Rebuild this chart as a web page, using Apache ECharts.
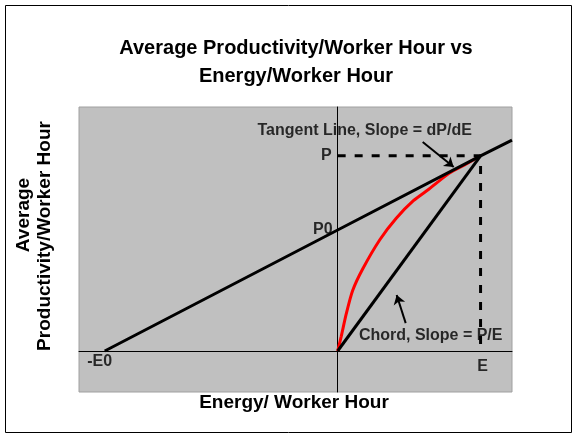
<!DOCTYPE html>
<html lang="en">
<head>
    <meta charset="UTF-8">
    <title>Average Productivity/Worker Hour vs Energy/Worker Hour</title>
    <script src="https://cdn.jsdelivr.net/npm/echarts@6/dist/echarts.min.js"></script>
    <style>
        html, body { margin: 0; padding: 0; background: #fff; }
        #main { width: 578px; height: 438px; }
    </style>
</head>
<body>
    <div id="main"></div>
    <script>
        // key points of the sketch (arbitrary units, E and P set to 10)
        var E = 10, P = 10, P0 = 6.2, E0 = 16.3;
        // red productivity curve
        var curveE = [0, 0.25, 0.6, 1.05, 1.75, 2.95, 4.1, 5.3, 6.4, 7.8, 9, 10];
        var curveP = [0, 0.75, 1.9, 3.1, 4.2, 5.7, 6.8, 7.7, 8.3, 9.1, 9.58, 10];
        // tangent line: -E0 -> P0 -> (E,P) -> off the right edge
        var tangentE = [-E0, 0, E, 12.2];
        var tangentP = [0, P0, P, 10.8];
        // chord from the origin to (E,P)
        var chordE = [0, E];
        var chordP = [0, P];
        // arrows [fromE, fromP, toE, toP]
        var tangentArrow = [5.95, 10.71, 8.12, 9.43];
        var chordArrow = [4.76, 1.43, 4.13, 2.87];

        var font = "'Liberation Sans', Arial, sans-serif";

        function zip(xs, ys) {
            var out = [];
            for (var i = 0; i < xs.length; i++) out.push([xs[i], ys[i]]);
            return out;
        }
        function lbl(x, y, text, pos, dist, off) {
            return {
                value: [x, y],
                label: { show: true, formatter: text, position: pos, distance: dist || 0, offset: off || [0, 0] }
            };
        }

        var myChart = echarts.init(document.getElementById('main'), null, { renderer: 'canvas' });
        var option = {
            animation: false,
            backgroundColor: '#fff',
            title: {
                text: 'Average Productivity/Worker Hour vs\nEnergy/Worker Hour',
                left: 291,
                top: 29,
                textAlign: 'center',
                textStyle: { fontFamily: font, fontWeight: 'bold', fontSize: 20, lineHeight: 28, color: '#000' }
            },
            grid: {
                left: 79, right: 66, top: 107, bottom: 46,
                show: true,
                backgroundColor: '#c0c0c0',
                borderColor: '#a0a0a0',
                borderWidth: 1
            },
            xAxis: {
                type: 'value', min: -18.1, max: 12.2,
                axisLine: { onZero: true, lineStyle: { color: '#000', width: 1 } },
                axisTick: { show: false }, axisLabel: { show: false }, splitLine: { show: false }
            },
            yAxis: {
                type: 'value', min: -2.1, max: 12.5,
                axisLine: { show: true, onZero: true, lineStyle: { color: '#000', width: 1 } },
                axisTick: { show: false }, axisLabel: { show: false }, splitLine: { show: false }
            },
            graphic: [
                { type: 'rect', shape: { x: 5.5, y: 5.5, width: 566, height: 427 }, style: { fill: 'none', stroke: '#000', lineWidth: 1 } },
                { type: 'text', x: 24, y: 215, rotation: Math.PI / 2,
                  style: { text: 'Average', align: 'center', verticalAlign: 'middle', font: 'bold 19px ' + font, fill: '#000' } },
                { type: 'text', x: 45, y: 236, rotation: Math.PI / 2,
                  style: { text: 'Productivity/Worker Hour', align: 'center', verticalAlign: 'middle', font: 'bold 19px ' + font, fill: '#000' } },
                { type: 'text', x: 294, y: 403,
                  style: { text: 'Energy/ Worker Hour', align: 'center', verticalAlign: 'middle', font: 'bold 19px ' + font, fill: '#000' } }
            ],
            series: [
                {
                    name: 'curve', type: 'line', data: zip(curveE, curveP),
                    smooth: 0.25, showSymbol: false, silent: true,
                    lineStyle: { color: '#ff0000', width: 3 }
                },
                {
                    name: 'tangent', type: 'line', data: zip(tangentE, tangentP),
                    showSymbol: false, silent: true,
                    lineStyle: { color: '#000', width: 3 }
                },
                {
                    name: 'chord', type: 'line', data: zip(chordE, chordP),
                    showSymbol: false, silent: true,
                    lineStyle: { color: '#000', width: 3 }
                },
                {
                    name: 'guides', type: 'line', data: [[0, P], [E, P], [E, 0]],
                    showSymbol: false, silent: true,
                    lineStyle: { color: '#000', width: 3, type: [8, 9] }
                },
                {
                    name: 'arrows', type: 'lines', coordinateSystem: 'cartesian2d', silent: true,
                    symbol: ['none', 'arrow'], symbolSize: 9,
                    lineStyle: { color: '#000', width: 2, opacity: 1 },
                    data: [
                        { coords: [[tangentArrow[0], tangentArrow[1]], [tangentArrow[2], tangentArrow[3]]] },
                        { coords: [[chordArrow[0], chordArrow[1]], [chordArrow[2], chordArrow[3]]] }
                    ]
                },
                {
                    name: 'labels', type: 'scatter', symbolSize: 0, silent: true,
                    label: { color: '#000', fontFamily: font, fontWeight: 'bold', fontSize: 16 },
                    data: [
                        lbl(0, P, 'P', 'left', 6),
                        lbl(0, P0, 'P0', 'left', 5),
                        lbl(-E0, 0, '-E0', 'bottom', 3, [-5, 0]),
                        lbl(E, 0, 'E', 'bottom', 8, [2, 0]),
                        lbl(1.89, 11.27, 'Tangent Line, Slope = dP/dE', 'inside'),
                        lbl(6.51, 0.77, 'Chord, Slope = P/E', 'inside')
                    ]
                }
            ]
        };
        myChart.setOption(option);
    </script>
</body>
</html>
